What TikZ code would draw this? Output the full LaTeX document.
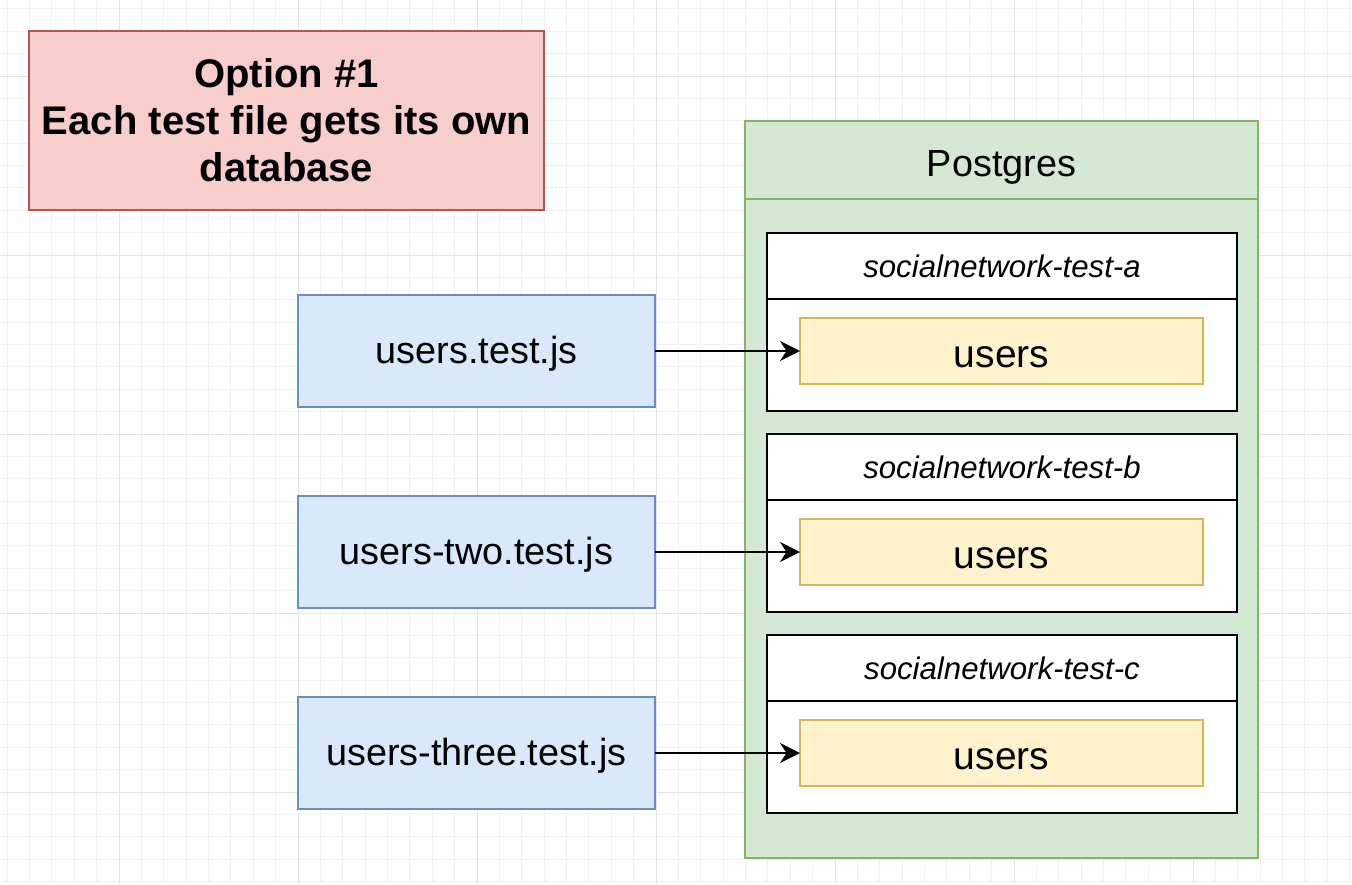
\documentclass[tikz,border=0pt]{standalone}
\usepackage{fontspec}
\setmainfont{Liberation Sans}
\usetikzlibrary{arrows.meta}
\usetikzlibrary{positioning}
\definecolor{redfill}{HTML}{F8CECC}
\definecolor{redline}{HTML}{B85450}
\definecolor{bluefill}{HTML}{DAE8FC}
\definecolor{blueline}{HTML}{6C8EBF}
\definecolor{greenfill}{HTML}{D5E8D4}
\definecolor{greenline}{HTML}{82B366}
\definecolor{yellowfill}{HTML}{FFF2CC}
\definecolor{yellowline}{HTML}{D6B656}
\definecolor{gridminor}{HTML}{F2F2F2}
\definecolor{gridmajor}{HTML}{E4E4E4}
\tikzset{
	box/.style = {
		align=center,
		inner sep=0pt,
		outer sep=0pt,
		line width=1pt,
		text centered
	},
	node_title/.style = {
		box,
		draw=redline,
		fill=redfill,
		minimum width=257.5pt,
		minimum height=89.5pt,
		font=\fontsize{20}{23.5}\selectfont\bfseries
	},
	node_file/.style = {
		box,
		draw=blueline,
		fill=bluefill,
		minimum width=178.5pt,
		minimum height=56pt,
		text height=14pt,
		text depth=2pt,
		font=\fontsize{18.9}{22}\selectfont
	},
	node_pg/.style = {
		box,
		draw=greenline,
		fill=greenfill,
		minimum width=256.5pt
	},
	node_dbname/.style = {
		box,
		draw=black,
		fill=white,
		minimum width=235pt,
		minimum height=33pt,
		font=\fontsize{15.6}{18}\selectfont\itshape
	},
	node_db/.style = {
		box,
		draw=black,
		fill=white,
		minimum width=235pt,
		minimum height=56pt
	},
	node_table/.style = {
		box,
		draw=yellowline,
		fill=yellowfill,
		minimum width=201.5pt,
		minimum height=33pt,
		text height=16pt,
		text depth=0pt,
		font=\fontsize{19.5}{22}\selectfont
	},
	link/.style = {
		->,
		line width=1pt,
		black
	}
}
\begin{document}
\begin{tikzpicture}[x=0.5pt,y=-0.5pt,>={Stealth[length=10pt,width=10pt]}]
\useasboundingbox (0,0) rectangle (1352,884);
\fill[white] (0,0) rectangle (1352,884);
% background grid
\foreach \i in {0,...,60}
	\draw[gridminor,line width=0.5pt] ({7.125+22.375*\i},0) -- ({7.125+22.375*\i},884);
\foreach \j in {0,...,39}
	\draw[gridminor,line width=0.5pt] (0,{8.875+22.375*\j}) -- (1352,{8.875+22.375*\j});
\foreach \i in {0,...,6}
	\draw[gridmajor,line width=0.5pt] ({119+179*\i},0) -- ({119+179*\i},884);
\foreach \j in {0,...,4}
	\draw[gridmajor,line width=0.5pt] (0,{76+179*\j}) -- (1352,{76+179*\j});

\node [node_title] (title) at (286.5,120.5) {Option \#1\\Each test file gets its own\\database};

% postgres container
\node [node_pg, minimum height=39pt, text height=18pt, text depth=2pt, font=\fontsize{18.9}{22}\selectfont] (pg) at (1001.5,160) {Postgres};
\node [node_pg, minimum height=329.5pt, below=0pt of pg] (pgbody) {};

\node [node_dbname] (namea) at (1002,266) {socialnetwork-test-a};
\node [node_db, below=0pt of namea] (dba) {};
\node [node_table] (usersa) at (1001.5,351) {users};

\node [node_dbname] (nameb) at (1002,467) {socialnetwork-test-b};
\node [node_db, below=0pt of nameb] (dbb) {};
\node [node_table] (usersb) at (1001.5,552) {users};

\node [node_dbname] (namec) at (1002,668) {socialnetwork-test-c};
\node [node_db, below=0pt of namec] (dbc) {};
\node [node_table] (usersc) at (1001.5,753) {users};

% test files
\node [node_file] (filea) at (476.5,351) {users.test.js};
\node [node_file, below=44.5pt of filea] (fileb) {users-two.test.js};
\node [node_file, below=44.5pt of fileb] (filec) {users-three.test.js};

\draw [link] (filea) -- (usersa);
\draw [link] (fileb) -- (usersb);
\draw [link] (filec) -- (usersc);
\end{tikzpicture}
\end{document}
